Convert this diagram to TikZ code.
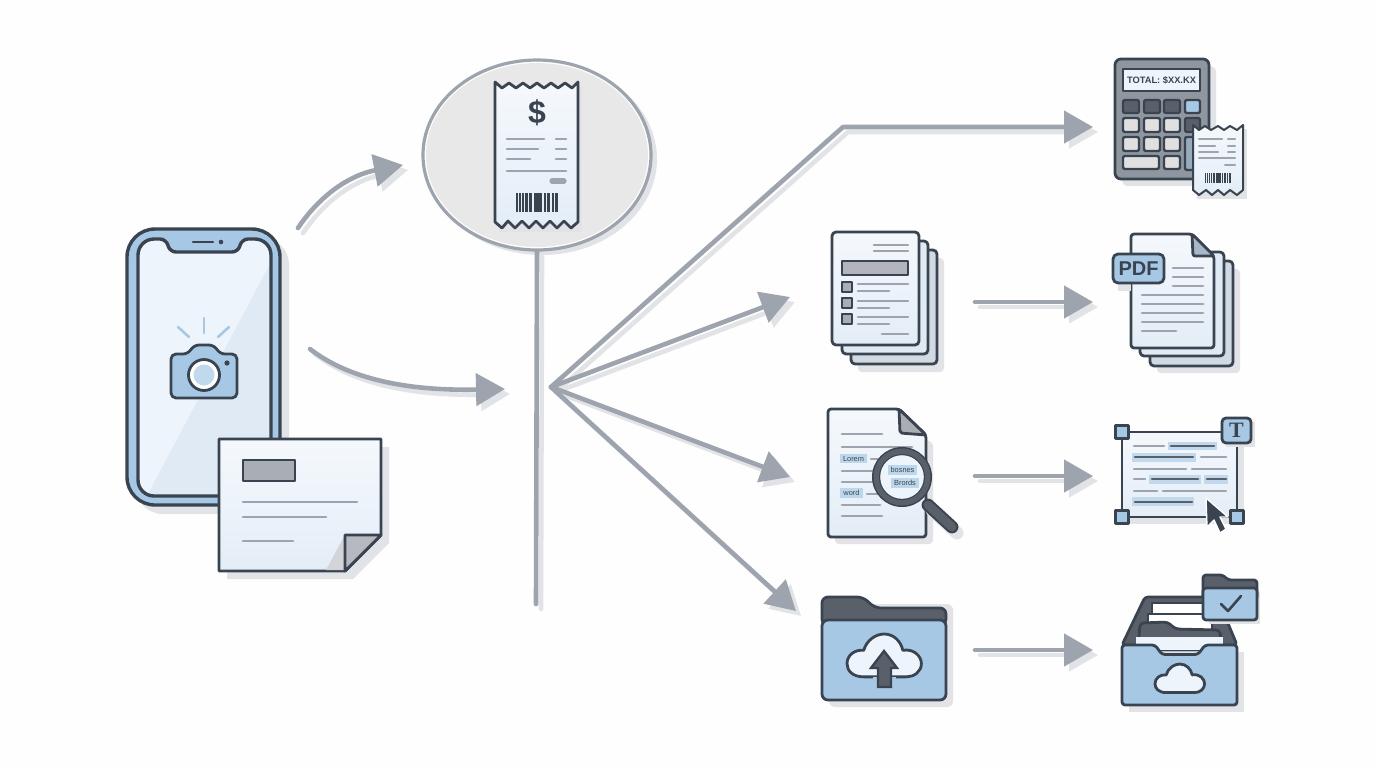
\documentclass[tikz,border=0pt]{standalone}
\usepackage{fontspec}
\setmainfont{Liberation Sans}
\newfontfamily\serifb{Liberation Serif}
\usetikzlibrary{arrows.meta,shapes.geometric}
\definecolor{ink}{HTML}{3A4450}
\definecolor{blu}{HTML}{A6C8E5}
\definecolor{pap}{HTML}{EEF4FB}
\definecolor{pap2}{HTML}{DFEAF5}
\definecolor{gry}{HTML}{9DA4AD}
\definecolor{shd}{HTML}{E1E3E7}
\definecolor{drk}{HTML}{5A6069}
\definecolor{mid}{HTML}{A9AEB5}
\tikzset{
  ico/.style={draw=ink,line width=1.4pt,line join=round},
  paper/.style={ico,top color=F4F8FD,bottom color=E6EFF8},
  bluef/.style={ico,fill=blu},
  gline/.style={draw=gry,line width=1.35pt,line cap=round},
  dline/.style={draw=ink!85,line width=1.4pt,line cap=round},
  hl/.style={fill=blu!75,draw=none},
  conn/.style={draw=gry,line width=2.3pt,line cap=round,line join=round,-{Triangle[length=14.5pt,width=16pt]}},
  connsh/.style={draw=shd,line width=2.3pt,line cap=round,line join=round,-{Triangle[length=14.5pt,width=16pt]},transform canvas={shift={(2.5pt,-2.5pt)}}},
  stemsh/.style={draw=shd,line width=2.3pt,line cap=round,transform canvas={shift={(2.5pt,-2.5pt)}}},
  stemc/.style={draw=gry,line width=2.3pt,line cap=round},
  tinyt/.style={inner sep=0pt,text=ink,font=\fontsize{3.7pt}{4pt}\selectfont},
}
\colorlet{F4F8FD}{pap!60!white}
\colorlet{E6EFF8}{pap2!70!pap}
\newcommand{\barcodeP}{%
  \foreach \a/\b in {0/2.2,3/5,6/8,9.5/12,13.5/16,18/26.5,28/30,31.5/34.5,36/38,39.5/42.5}
    \fill[ink] (\a,0) rectangle (\b,1);}
\newcommand{\cloudP}[5][fill=pap]{%
  \begin{scope}[shift={(#2,#3)},xscale=#4,yscale=#5]
  \draw[ico,#1] (18,42) .. controls (6,42) and (0,36) .. (0,29) .. controls (0,21) and (8,15) .. (18,16)
    .. controls (21,6) and (31,0) .. (40,0) .. controls (50,0) and (58,7) .. (60,16)
    .. controls (72,14) and (80,22) .. (80,29) .. controls (80,37) and (72,42) .. (64,42) -- cycle;
  \end{scope}}
\begin{document}
\begin{tikzpicture}[x=0.5pt,y=-0.5pt]
\useasboundingbox (0,0) rectangle (1376,768);
\fill[white!99!gray] (0,0) rectangle (1376,768);

% ---------- named anchor points for connectors
\coordinate (phoneTop) at (298,228);
\coordinate (phoneMid) at (310,349);
\coordinate (lensIn) at (403,165);
\coordinate (hubIn) at (505,389);
\coordinate (hub) at (551,387);
\coordinate (stemEnd) at (536,604);
\coordinate (bend) at (843,127);
\coordinate (calcIn) at (1093,127);
\coordinate (formsIn) at (790,297);
\coordinate (searchIn) at (790,477);
\coordinate (folderIn) at (796,611);
\coordinate (formsOut) at (975,302);
\coordinate (pdfIn) at (1093,302);
\coordinate (searchOut) at (975,476);
\coordinate (editIn) at (1093,476);
\coordinate (folderOut) at (975,650);
\coordinate (cabIn) at (1093,650);

% ---------- phone
\fill[shd,rounded corners=14pt] (135,237) rectangle (289,514);
\draw[bluef,line width=1.7pt,rounded corners=14pt] (127,229) rectangle (280,505);
\def\screenP{[rounded corners=8pt] (138,300) -- (138,239) [rounded corners=3pt] -- (166,239) -- (170,252) -- (238,252) -- (242,239) [rounded corners=8pt] -- (271,239) -- (271,496) -- (138,496) -- cycle}
\fill[pap] \screenP;
\begin{scope}
  \clip \screenP;
  \fill[pap2] (271,262) -- (147,496) -- (271,496) -- cycle;
\end{scope}
\draw[ico,line width=1.7pt] \screenP;
\draw[ink,line width=1.1pt,line cap=round] (193,242) -- (213,242);
\fill[ink] (221,242) circle (2.3);
% camera
\foreach \a/\b/\c/\d in {204/318/204/333,178/327/189/337,229/327/218/337}
  \draw[blu,line width=1.3pt,line cap=round] (\a,\b) -- (\c,\d);
\draw[bluef,rounded corners=2.5pt] (171,354) -- (188,354) -- (194,345) -- (214,345) -- (220,354) -- (237,354) -- (237,398) -- (171,398) -- cycle;
\draw[ico,fill=white] (204,375) circle (15.5);
\fill[blu!70!white] (204,375) circle (10.5);
\fill[ink] (227,363) circle (2.6);

% ---------- paper in front of phone
\fill[shd] (227,447) -- (389,447) -- (389,543) -- (353,579) -- (227,579) -- cycle;
\draw[paper] (219,439) -- (381,439) -- (381,535) -- (345,571) -- (219,571) -- cycle;
\fill[shd!85!gray] (326,570) -- (345,535) -- (345,570) -- cycle;
\draw[ico,fill=mid!85!white] (345,571) -- (345,535) -- (381,535) -- cycle;
\draw[ico,fill=mid] (243,460) rectangle (295,481);
\draw[gline] (243,502) -- (357,502);
\draw[gline] (243,517) -- (326,517);
\draw[gline] (243,541) -- (293,541);

% ---------- ellipse with receipt
\fill[shd] (542,159) ellipse (115 and 96);
\node[ellipse,draw=gry,line width=1.6pt,fill=white,minimum width=114pt,minimum height=95pt,inner sep=0pt] (lens) at (537,155) {};
\fill[black!9] (537,155) ellipse (111 and 92);
% receipt
\fill[shd] (499,86) -- (582,86) -- (582,232) -- (499,232) -- cycle;
\draw[paper] (495,82) -- (502,88) -- (509,83) -- (516,88) -- (523,83) -- (530,88) -- (537,83) -- (544,88) -- (551,83) -- (558,88) -- (565,83) -- (572,88) -- (578,82)
  -- (578,222) -- (571,228) -- (564,221) -- (557,228) -- (550,221) -- (543,228) -- (536,221) -- (529,228) -- (522,221) -- (515,228) -- (508,221) -- (502,228) -- (495,222) -- cycle;
\node[inner sep=0pt,text=ink,font=\fontsize{16pt}{16pt}\selectfont\bfseries] (dollar) at (537,113) {\$};
\foreach \a/\b/\y in {507/544/139,556/566/139,507/538/149,556/566/149,507/530/159,556/566/159,507/566/171}
  \draw[gline] (\a,\y) -- (\b,\y);
\draw[draw=gry,line width=2.6pt,line cap=round] (552,181) -- (564,181);
\begin{scope}[shift={(515.5,193)},yscale=19]\barcodeP\end{scope}

% ---------- connectors (shadows first)
\draw[connsh] (phoneTop) .. controls (320,195) and (350,175) .. (lensIn);
\draw[connsh] (phoneMid) .. controls (350,380) and (410,391) .. (hubIn);
\draw[stemsh] (lens.south) -- (stemEnd);
\draw[connsh] (hub) -- (bend) -- (calcIn);
\draw[connsh] (hub) -- (formsIn);
\draw[connsh] (hub) -- (searchIn);
\draw[connsh] (hub) -- (folderIn);
\draw[connsh] (formsOut) -- (pdfIn);
\draw[connsh] (searchOut) -- (editIn);
\draw[connsh] (folderOut) -- (cabIn);
\draw[conn] (phoneTop) .. controls (320,195) and (350,175) .. (lensIn);
\draw[conn] (phoneMid) .. controls (350,380) and (410,391) .. (hubIn);
\draw[stemc] (lens.south) -- (stemEnd);
\draw[conn] (hub) -- (bend) -- (calcIn);
\draw[conn] (hub) -- (formsIn);
\draw[conn] (hub) -- (searchIn);
\draw[conn] (hub) -- (folderIn);
\draw[conn] (formsOut) -- (pdfIn);
\draw[conn] (searchOut) -- (editIn);
\draw[conn] (folderOut) -- (cabIn);

% ---------- calculator
\fill[shd,rounded corners=3pt] (1122,66) rectangle (1216,186);
\draw[ico,fill=gry!85!ink,rounded corners=3pt] (1115,59) rectangle (1209,179);
\draw[ico,fill=pap,line width=1.2pt] (1123,69) rectangle (1200,91);
\node[inner sep=0pt,text=ink,font=\fontsize{4.65pt}{5pt}\selectfont\bfseries] (total) at (1161.5,80) {TOTAL: \$XX.KX};
\foreach \a/\b/\c/\d/\f in {
  1123/100/1139/113/drk,1144/100/1160/113/drk,1164/100/1180/113/drk,1185/100/1200/113/blu,
  1123/118/1139/132/black!12,1144/118/1160/132/black!12,1164/118/1180/132/black!12,1185/118/1200/132/drk,
  1123/137/1139/151/black!12,1144/137/1160/151/black!12,1164/137/1180/151/black!12,1185/137/1200/170/blu!60!gray,
  1123/156/1159/169/black!12,1164/156/1180/169/black!12}
  \draw[ico,fill=\f,line width=1.2pt,rounded corners=1pt] (\a,\b) rectangle (\c,\d);
\fill[shd] (1197,129) -- (1247,129) -- (1247,199) -- (1197,199) -- cycle;
\draw[paper,line width=1pt] (1193,125) -- (1199,130) -- (1205,126) -- (1211,130) -- (1218,126) -- (1224,130) -- (1230,126) -- (1237,130) -- (1243,125)
  -- (1243,190) -- (1237,195) -- (1230,190) -- (1224,195) -- (1218,190) -- (1212,195) -- (1206,190) -- (1199,195) -- (1193,190) -- cycle;
\foreach \a/\b/\y in {1199/1222/139,1228/1235/139,1199/1215/146,1228/1235/146,1199/1218/152,1228/1235/152,1199/1235/158,1225/1235/165}
  \draw[gline,line width=1.05pt] (\a,\y) -- (\b,\y);
\begin{scope}[shift={(1205,173)},xscale=0.6,yscale=10]\barcodeP\end{scope}

% ---------- form stack
\fill[shd,rounded corners=2pt] (858,258) rectangle (944,372);
\draw[ico,fill=pap2!85!gray,rounded corners=2pt] (851,250) rectangle (937,364);
\draw[ico,fill=pap2,rounded corners=2pt] (842,241) rectangle (928,354);
\draw[paper,rounded corners=2pt] (832,232) rectangle (919,345);
\draw[gline] (874,245) -- (908,245);
\draw[gline] (874,251) -- (908,251);
\draw[ico,fill=mid!90!white,line width=1.2pt] (842,261) rectangle (908,275);
\foreach \y in {282,298,314}
  \draw[ico,fill=mid,line width=1.2pt] (842,\y) rectangle (852,\y+10);
\foreach \y/\e in {284/889,301/889,317/889}{
  \draw[gline] (858,\y) -- (908,\y);
  \draw[gline] (858,\y+7) -- (\e,\y+7);}
\draw[gline] (882,334) -- (908,334);

% ---------- PDF stack
\fill[shd,rounded corners=2pt] (1157,269) rectangle (1240,373);
\draw[ico,fill=pap2!85!gray,rounded corners=2pt] (1150,261) rectangle (1233,366);
\draw[ico,fill=pap2,rounded corners=2pt] (1140,252) rectangle (1224,356);
\draw[paper,rounded corners=1.5pt] (1131,234) -- (1192,234) -- (1214,256) -- (1214,348) -- (1131,348) -- cycle;
\draw[ico,fill=mid!60!blu,rounded corners=1pt] (1192,234) -- (1193,256) -- (1214,256) -- cycle;
\fill[shd] (1118,259) rectangle (1131,291);
\draw[bluef,rounded corners=2.5pt] (1113,254) rectangle (1164,283);
\node[inner sep=0pt,text=ink,font=\fontsize{10pt}{10pt}\selectfont\bfseries] (pdf) at (1138.5,269) {PDF};
\foreach \a/\y in {1173/268,1173/277,1173/286,1142/295,1142/304,1142/313,1142/322}
  \draw[gline] (\a,\y) -- (1203,\y);
\draw[gline] (1142,331) -- (1176,331);

% ---------- search document
\fill[shd,rounded corners=2pt] (835,416) -- (933,442) -- (933,544) -- (835,544) -- cycle;
\draw[paper,rounded corners=1.5pt] (828,409) -- (899,409) -- (926,435) -- (926,537) -- (828,537) -- cycle;
\draw[ico,fill=mid,rounded corners=1pt] (899,409) -- (900,433) -- (926,435) -- cycle;
\foreach \a/\b/\y in {842/882/434,842/912/447,871/892/459,842/880/471,842/875/482,867/912/494,842/880/505,842/882/516}
  \draw[gline] (\a,\y) -- (\b,\y);
\node[hl,tinyt,minimum width=13.5pt,minimum height=4.7pt] (lorem) at (853.5,458.5) {Lorem};
\node[hl,tinyt,minimum width=11.5pt,minimum height=4.9pt] (word) at (851.5,493) {word};
\draw[draw=shd,line width=6.5pt,line cap=round] (932,510) -- (957,533);
\draw[draw=ink,line width=6.4pt,line cap=round] (928,505) -- (952,527);
\draw[draw=drk,line width=4.4pt,line cap=round] (928,505) -- (952,527);
\fill[ink] (902,477) circle (30);
\fill[drk] (902,477) circle (28.5);
\fill[ink] (902,477) circle (23);
\fill[pap] (902,477) circle (21.8);
\node[hl,tinyt,minimum width=14.2pt,minimum height=5pt] (bos) at (902.5,470) {bosnes};
\node[hl,tinyt,minimum width=14.2pt,minimum height=5pt] (brd) at (905,483) {Brords};

% ---------- text editing frame
\fill[shd] (1129,439) rectangle (1244,524);
\draw[paper] (1122,432) rectangle (1237,517);
\foreach \a/\b/\c/\d in {1168/442/1217/450,1132/453/1196/462,1149/475/1201/484,1204/475/1228/484,1132/497/1194/506}
  \fill[blu!70] (\a,\b) rectangle (\c,\d);
\foreach \a/\b/\y in {1171/1214/446,1135/1193/457,1152/1198/479,1207/1226/479,1135/1192/502}
  \draw[dline] (\a,\y) -- (\b,\y);
\foreach \a/\b/\y in {1134/1164/446,1201/1226/457,1134/1186/469,1192/1226/469,1134/1145/479,1134/1157/491,1163/1226/491}
  \draw[gline] (\a,\y) -- (\b,\y);
\foreach \x/\y in {1122/432,1122/517,1237/517}
  \draw[bluef,line width=1.3pt] (\x-6.5,\y-6.5) rectangle (\x+6.5,\y+6.5);
\fill[shd] (1226,422) rectangle (1255,447);
\draw[bluef,rounded corners=2pt] (1222,418) rectangle (1251,443);
\node[inner sep=0pt,text=ink,font=\fontsize{11pt}{11pt}\serifb\bfseries] (tee) at (1236.5,430.5) {T};
\draw[fill=ink,draw=white,line width=0.7pt,line join=round] (1206,498) -- (1207,527) -- (1214,520) -- (1220,533) -- (1226,529) -- (1220,517) -- (1228,517) -- cycle;

% ---------- upload folder
\fill[shd,rounded corners=3pt] (829,604) rectangle (953,707);
\draw[ico,fill=drk,rounded corners=3pt] (822,625) -- (822,597) -- (863,597) -- (875,608) -- (946,608) -- (946,625) -- cycle;
\draw[bluef,rounded corners=3pt] (822,620) rectangle (946,700);
\cloudP{847}{634}{0.93}{1.02}
\fill[blu] (873,676.5) rectangle (896,680);
\draw[ico,fill=drk,line width=1.2pt,line join=miter] (884,651) -- (897,668) -- (891,668) -- (891,687) -- (878,687) -- (878,668) -- (871,668) -- cycle;

% ---------- cabinet
\fill[shd] (1129,652) -- (1244,652) -- (1244,712) -- (1129,712) -- cycle;
\draw[ico,fill=drk,rounded corners=1.5pt] (1122,645) -- (1145,597) -- (1217,597) -- (1237,645) -- cycle;
\draw[ico,fill=white,line width=1.1pt] (1152,603) rectangle (1205,625);
\draw[ico,fill=white,line width=1.1pt] (1148,614) rectangle (1212,630);
\draw[ico,fill=drk,rounded corners=2pt] (1138,650) -- (1140,623) -- (1168,622) -- (1175,629) -- (1220,630) -- (1222,650) -- cycle;
\fill[pap] (1136,637) rectangle (1223,650);
\draw[bluef,rounded corners=1.5pt] (1122,645) -- (1155,645) -- (1162,654.5) -- (1198,654.5) -- (1205,645) -- (1237,645) -- (1237,705) -- (1122,705) -- cycle;
\cloudP{1155}{664}{0.62}{0.68}
\fill[shd] (1209,592) rectangle (1260,624);
\draw[ico,fill=drk,rounded corners=1.5pt] (1203,600) -- (1203,575) -- (1223,575) -- (1228,580) -- (1257,580) -- (1257,600) -- cycle;
\draw[bluef,rounded corners=1.5pt] (1203,588) rectangle (1257,620);
\draw[draw=ink,line width=1.3pt,line cap=round,line join=round] (1221,604) -- (1228,611) -- (1241,596);
\end{tikzpicture}
\end{document}
